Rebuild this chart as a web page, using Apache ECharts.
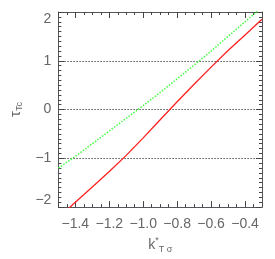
<!DOCTYPE html>
<html>
<head>
<meta charset="utf-8">
<script src="https://cdn.jsdelivr.net/npm/echarts@6/dist/echarts.min.js"></script>
<style>
html,body{margin:0;padding:0;background:#fff;}
#chart{width:275px;height:259px;}
</style>
</head>
<body>
<div id="chart"></div>
<script>
// Data
var redX   = [-1.45, -1.4, -1.3, -1.2, -1.1, -1.0, -0.9, -0.8, -0.7, -0.6, -0.5, -0.4, -0.3];
var redY   = [-2.06, -1.90, -1.59, -1.27, -0.94, -0.58, -0.21, 0.16, 0.52, 0.87, 1.21, 1.53, 1.85];
var greenX = [-1.5, -1.4, -1.3, -1.2, -1.1, -1.0, -0.9, -0.8, -0.7, -0.6, -0.5, -0.4, -0.3];
var greenY = [-1.20, -0.96, -0.70, -0.44, -0.18, 0.08, 0.35, 0.63, 0.91, 1.20, 1.50, 1.80, 2.10];
var xTickLabels = [-1.4, -1.2, -1.0, -0.8, -0.6, -0.4];

var labelColor = '#666';
var tickColor = '#444';
var font = 'Liberation Sans';

function pairs(xs, ys){ return xs.map(function(x,i){ return [x, ys[i]]; }); }
function minus(s){ return String(s).replace('-', '\u2212'); }

function xMinor(pos){
  return {
    type:'value', position:pos, min:-1.5, max:-0.3, interval:0.05,
    axisLine:{show:true, onZero:false},
    axisTick:{show:true, inside:true, length:3, lineStyle:{color:tickColor}},
    axisLabel:{show:false}, splitLine:{show:false}
  };
}
function xMajor(pos, withLabels){
  var a = {
    type:'value', position:pos, min:-1.5, max:-0.3, interval:0.05,
    axisLine:{show:false, onZero:false},
    axisTick:{show:true, inside:true, length:6, customValues:xTickLabels, lineStyle:{color:tickColor}},
    axisLabel:{show:false}, splitLine:{show:false}
  };
  if (withLabels) {
    a.axisLabel = {show:true, customValues:xTickLabels, margin:10, color:labelColor,
      fontFamily:font, fontSize:14,
      formatter:function(v){ return minus(v.toFixed(1)); }};
    a.name = '{k|k}{sup|*}{sub|T \u03c3}';
    a.nameLocation = 'middle';
    a.nameGap = 25;
    a.nameTextStyle = {rich:{
      k:{fontFamily:font, fontSize:14, color:labelColor, lineHeight:18, verticalAlign:'middle'},
      sup:{fontFamily:font, fontSize:9, color:labelColor, verticalAlign:'top', lineHeight:18},
      sub:{fontFamily:font, fontSize:9, color:labelColor, verticalAlign:'bottom', lineHeight:18}
    }};
  }
  return a;
}
function yAx(pos, withLabels){
  var a = {
    type:'value', position:pos, min:-2, max:2, interval:1,
    axisLine:{show:true, onZero:false},
    axisTick:{show:true, inside:true, length:6, lineStyle:{color:tickColor}},
    minorTick:{show:true, splitNumber:10, length:3, lineStyle:{color:tickColor}},
    axisLabel:{show:false},
    splitLine:{show:false}
  };
  if (withLabels) {
    a.axisLabel = {show:true, margin:7, color:labelColor, fontFamily:font, fontSize:14,
      verticalAlignMaxLabel:'top', verticalAlignMinLabel:'bottom',
      formatter:function(v){ return minus(v); }};
    a.splitLine = {show:true, lineStyle:{color:'#555', type:[1.5,1.5]}};
    a.name = '{t|\u03c4}{sub|Tc}';
    a.nameLocation = 'middle';
    a.nameRotate = 90;
    a.nameGap = 27;
    a.nameTextStyle = {rich:{
      t:{fontFamily:font, fontSize:15, color:labelColor, lineHeight:18, verticalAlign:'middle'},
      sub:{fontFamily:font, fontSize:9, color:labelColor, verticalAlign:'bottom', lineHeight:18}
    }};
  }
  return a;
}

var chart = echarts.init(document.getElementById('chart'));
chart.setOption({
  animation:false,
  grid:{left:42, right:13, top:12, bottom:47},
  xAxis:[xMinor('bottom'), xMajor('bottom', true), xMinor('top'), xMajor('top', false)],
  yAxis:[yAx('left', true), yAx('right', false)],
  series:[
    {type:'line', xAxisIndex:0, yAxisIndex:0, data:pairs(greenX, greenY), showSymbol:false,
     lineStyle:{color:'#44ff44', width:1.5, type:[1.5,1.5]}},
    {type:'line', xAxisIndex:0, yAxisIndex:0, data:pairs(redX, redY), showSymbol:false,
     lineStyle:{color:'#ff2020', width:1.3}}
  ]
});
</script>
</body>
</html>
